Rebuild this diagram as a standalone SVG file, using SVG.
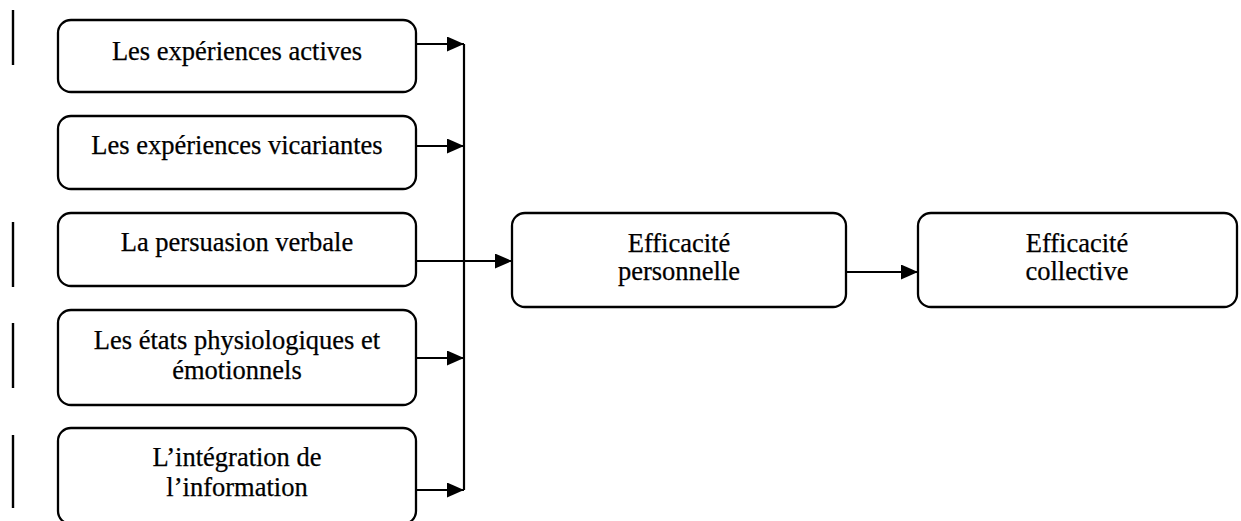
<svg xmlns="http://www.w3.org/2000/svg" width="1241" height="521" viewBox="0 0 1241 521">
  <style>
    .box { fill: #ffffff; stroke: #000000; stroke-width: 2.3; }
    .lbl { font-family: "Liberation Serif", "Times New Roman", serif; font-size: 26.5px; fill: #000000; stroke: #000000; stroke-width: 0.25; text-anchor: middle; }
    .wire { fill: none; stroke: #000000; stroke-width: 2.2; }
    .tick { stroke: #000000; stroke-width: 2.4; }
  </style>
  <defs>
    <marker id="head" viewBox="0 0 17 15" refX="17" refY="7.5" markerWidth="17" markerHeight="15" markerUnits="userSpaceOnUse" orient="auto">
      <path d="M0,0 L17,7.5 L0,15 z" fill="#000000"/>
    </marker>
  </defs>
  <rect width="1241" height="521" fill="#ffffff"/>

  <!-- margin bars -->
  <g id="margin-bars">
    <line class="tick" x1="13" y1="10" x2="13" y2="65"/>
    <line class="tick" x1="13" y1="222" x2="13" y2="287"/>
    <line class="tick" x1="13" y1="323" x2="13" y2="388"/>
    <line class="tick" x1="13" y1="435" x2="13" y2="508"/>
  </g>

  <g id="experiences-actives">
    <rect class="box" x="58" y="20" width="358" height="72" rx="13"/>
    <text class="lbl" x="237" y="60">Les expériences actives</text>
  </g>

  <g id="experiences-vicariantes">
    <rect class="box" x="58" y="116" width="358" height="73" rx="13"/>
    <text class="lbl" x="237" y="154">Les expériences vicariantes</text>
  </g>

  <g id="persuasion-verbale">
    <rect class="box" x="58" y="213" width="358" height="73" rx="13"/>
    <text class="lbl" x="237" y="251">La persuasion verbale</text>
  </g>

  <g id="etats-physiologiques">
    <rect class="box" x="58" y="310" width="358" height="95" rx="13"/>
    <text class="lbl" x="237" y="349">Les états physiologiques et</text>
    <text class="lbl" x="237" y="379">émotionnels</text>
  </g>

  <g id="integration-information">
    <rect class="box" x="58" y="428" width="358" height="96" rx="13"/>
    <text class="lbl" x="237" y="466">L’intégration de</text>
    <text class="lbl" x="237" y="496">l’information</text>
  </g>

  <g id="efficacite-personnelle">
    <rect class="box" x="512" y="213" width="334" height="94" rx="13"/>
    <text class="lbl" x="679" y="252">Efficacité</text>
    <text class="lbl" x="679" y="280">personnelle</text>
  </g>

  <g id="efficacite-collective">
    <rect class="box" x="918" y="213" width="319" height="94" rx="13"/>
    <text class="lbl" x="1077" y="252">Efficacité</text>
    <text class="lbl" x="1077" y="280">collective</text>
  </g>

  <g id="connectors">
    <line class="wire" x1="464" y1="44" x2="464" y2="490"/>
    <line class="wire" x1="416" y1="44" x2="464" y2="44" marker-end="url(#head)"/>
    <line class="wire" x1="416" y1="146" x2="464" y2="146" marker-end="url(#head)"/>
    <line class="wire" x1="416" y1="261" x2="512" y2="261" marker-end="url(#head)"/>
    <line class="wire" x1="416" y1="358" x2="464" y2="358" marker-end="url(#head)"/>
    <line class="wire" x1="416" y1="490" x2="464" y2="490" marker-end="url(#head)"/>
    <line class="wire" x1="846" y1="272" x2="918" y2="272" marker-end="url(#head)"/>
  </g>
</svg>
